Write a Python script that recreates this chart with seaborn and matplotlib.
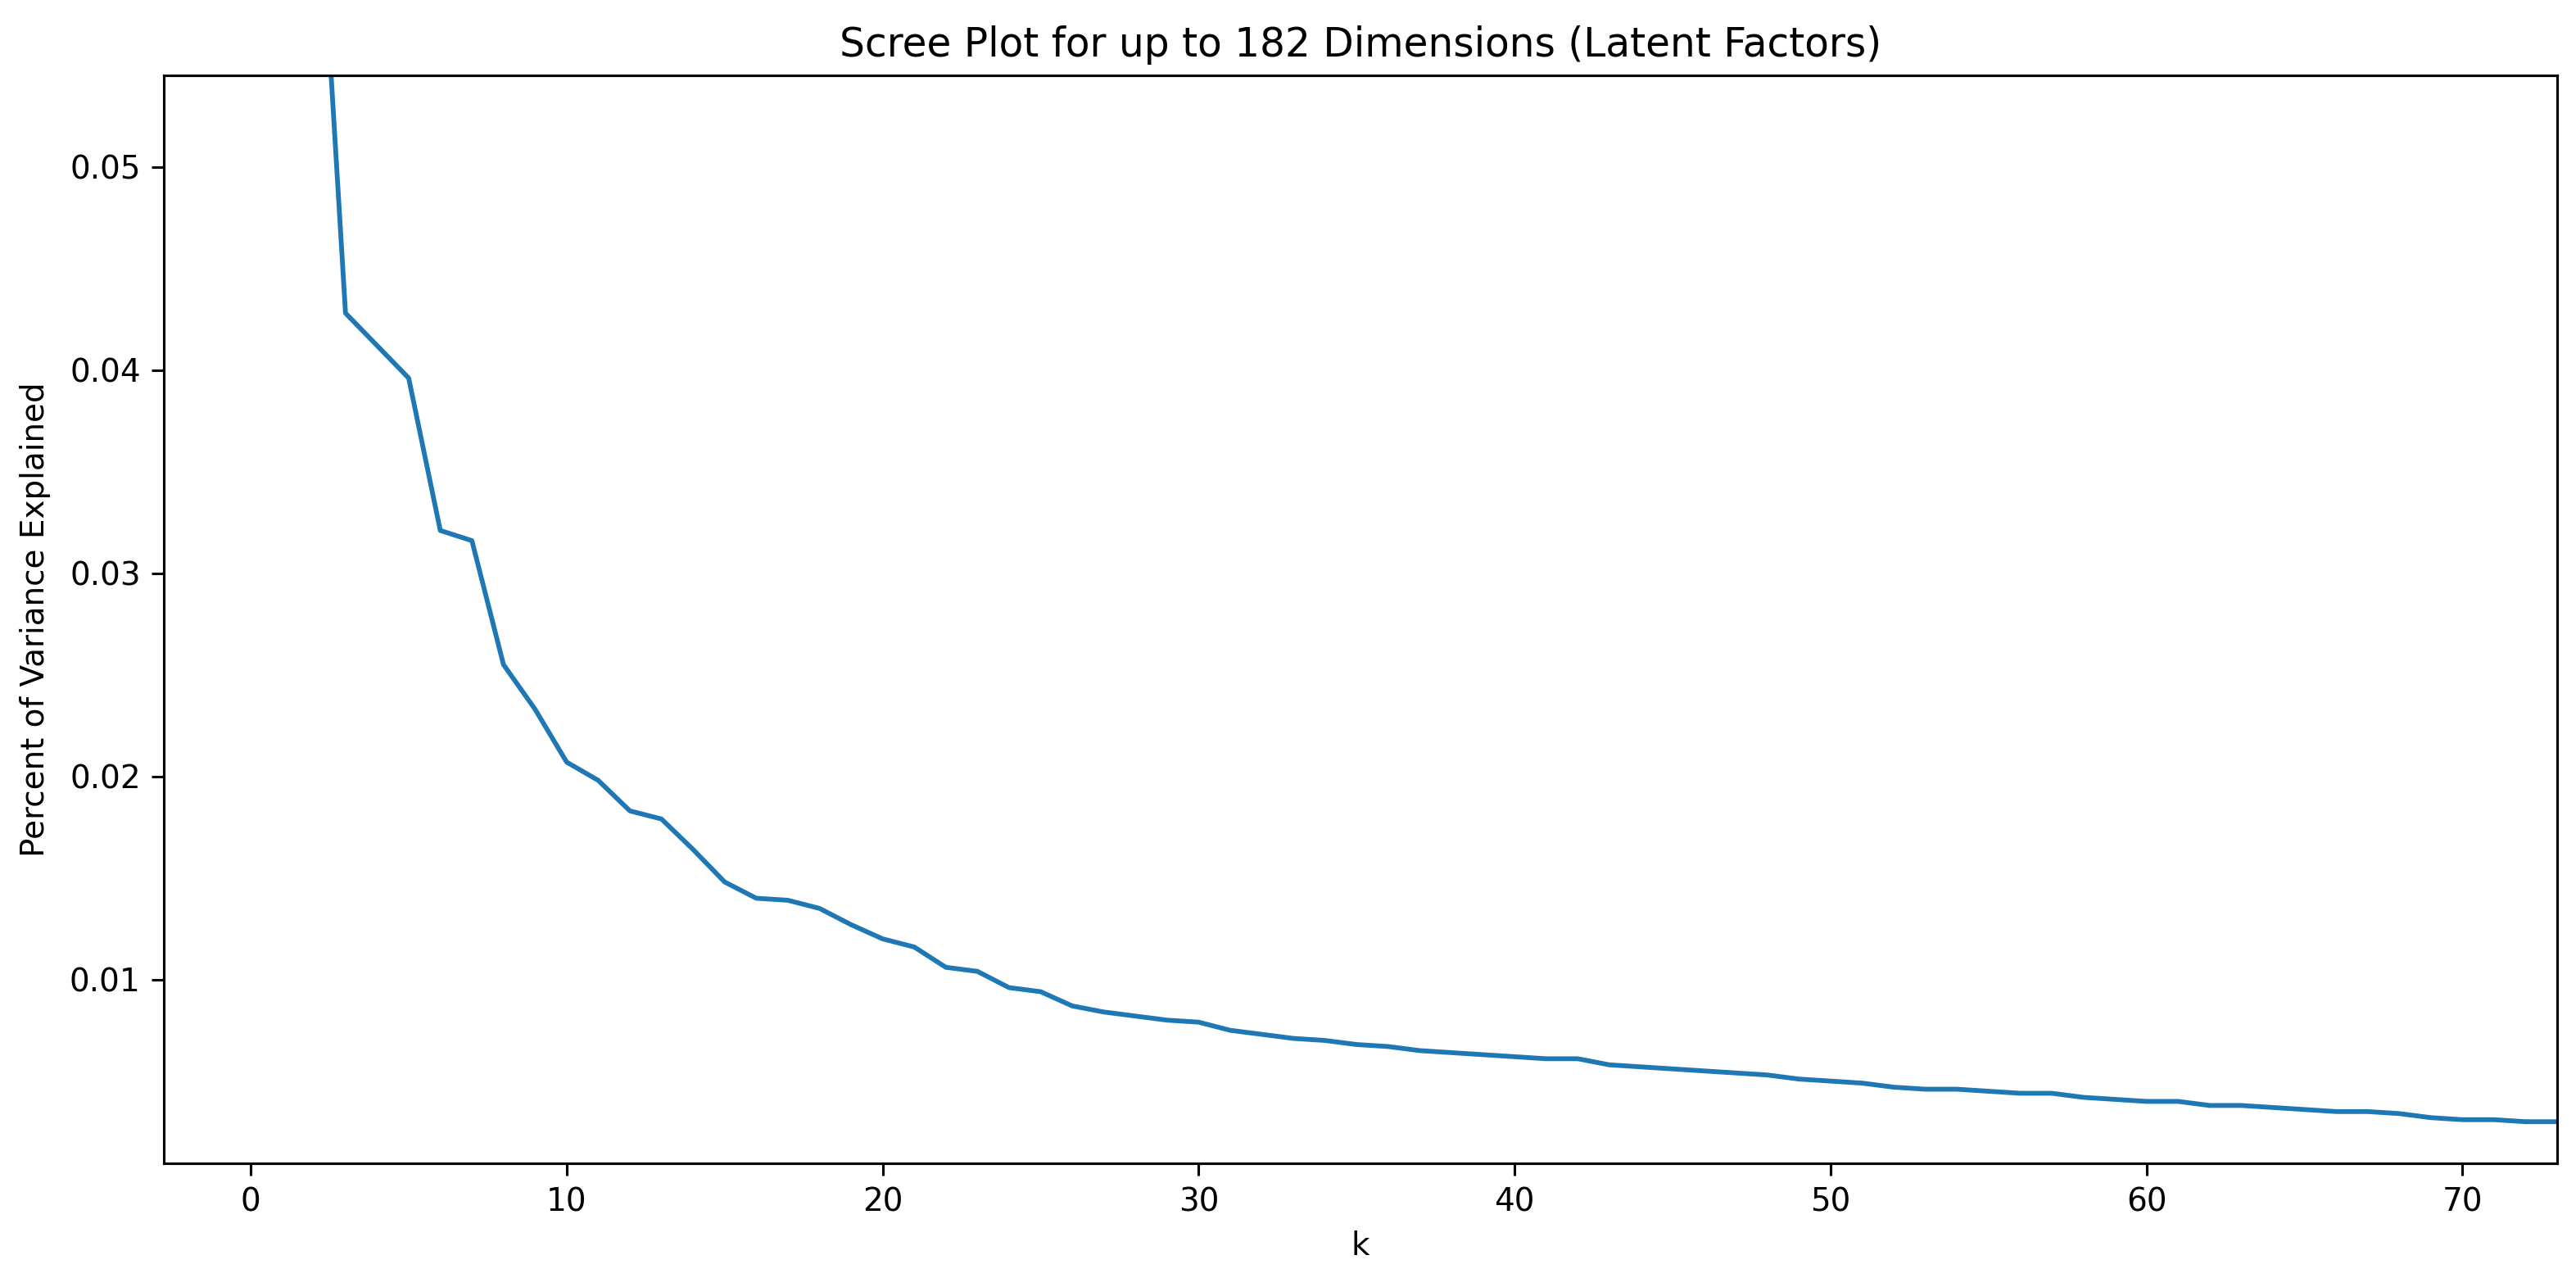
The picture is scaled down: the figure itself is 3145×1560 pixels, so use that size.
import numpy as np
import pandas as pd
import seaborn as sns
import matplotlib
matplotlib.use("Agg")
import matplotlib.pyplot as plt

# explained variance ratio per latent factor (first 74 of 182)
k = list(range(74))
var_explained = [
    0.2000, 0.1000, 0.0685, 0.0428, 0.0412, 0.0396, 0.0321, 0.0316, 0.0255, 0.0233,
    0.0207, 0.0198, 0.0183, 0.0179, 0.0164, 0.0148, 0.0140, 0.0139, 0.0135, 0.0127,
    0.0120, 0.0116, 0.0106, 0.0104, 0.0096, 0.0094, 0.0087, 0.0084, 0.0082, 0.0080,
    0.0079, 0.0075, 0.0073, 0.0071, 0.0070, 0.0068, 0.0067, 0.0065, 0.0064, 0.0063,
    0.0062, 0.0061, 0.0061, 0.0058, 0.0057, 0.0056, 0.0055, 0.0054, 0.0053, 0.0051,
    0.0050, 0.0049, 0.0047, 0.0046, 0.0046, 0.0045, 0.0044, 0.0044, 0.0042, 0.0041,
    0.0040, 0.0040, 0.0038, 0.0038, 0.0037, 0.0036, 0.0035, 0.0035, 0.0034, 0.0032,
    0.0031, 0.0031, 0.0030, 0.0030,
]

df = pd.DataFrame({"k": k, "var": var_explained})

fig = plt.figure(figsize=(3145 / 280, 1560 / 280), dpi=280)
ax = fig.add_axes([0.0636, 0.0897, 0.9291, 0.8513])
sns.lineplot(data=df, x="k", y="var", ax=ax, color="#1f77b4", linewidth=1.5)
ax.set_xlim(-2.75, 73)
ax.set_ylim(0.00095, 0.0545)
ax.tick_params(length=3.8)
ax.set_title("Scree Plot for up to 182 Dimensions (Latent Factors)", fontsize=12.5)
ax.set_xlabel("k")
ax.set_ylabel("Percent of Variance Explained", labelpad=6)
fig.savefig("out.png", dpi=280)
